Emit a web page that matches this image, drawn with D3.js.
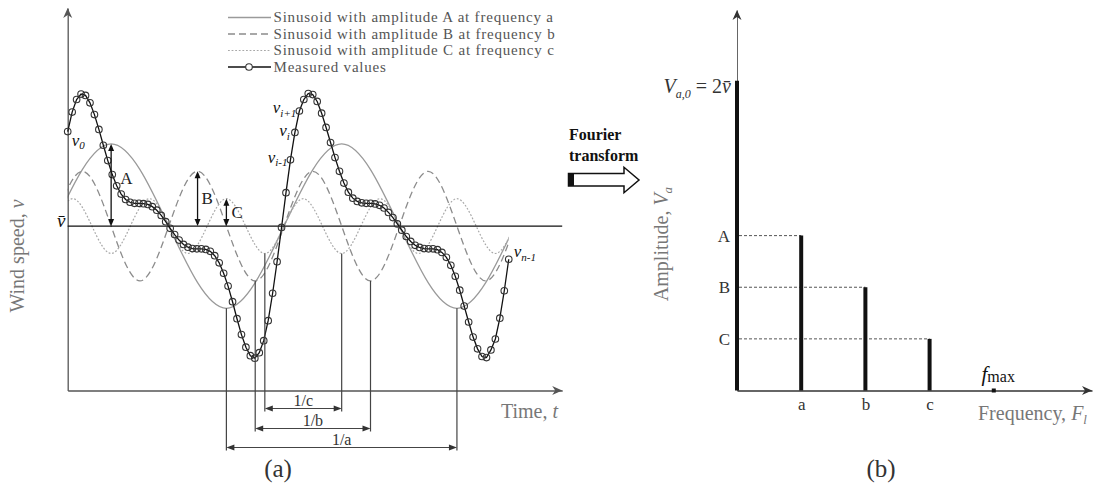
<!DOCTYPE html>
<html><head><meta charset="utf-8">
<script src="https://cdn.jsdelivr.net/npm/d3@7"></script>
<style>
html,body{margin:0;padding:0;background:#fff;}
svg{display:block;}
text{font-family:"Liberation Serif","Times New Roman",serif;}
</style></head><body>
<svg id="chart" width="1098" height="495"></svg>
<script>
// ---------- data ----------
const meanSpeed = 3;
const componentNames = ["A", "B", "C"];
const componentAmplitudes = [3, 2, 1];
const freqLabels = ["a", "b", "c"];
const componentFrequencies = [1, 2, 3];   // in multiples of a
const maxFrequency = 4;
const dcAmplitude = 2 * meanSpeed;       // V_a,0 = 2·v̄

// extrema and mean crossings of each sinusoid (time in sampling steps)
const sinATimes = [-3.19, 9.75, 22.69, 35.62, 48.56, 61.5, 74.44, 87.37, 100.31];
const sinAValues = [3, 6, 3, 0, 3, 6, 3, 0, 3];
const sinBTimes = [-3.19, 3.28, 9.75, 16.22, 22.69, 29.15, 35.62, 42.09, 48.56, 55.03, 61.5, 67.97, 74.44, 80.9, 87.37, 93.84, 100.31];
const sinBValues = [3, 5, 3, 1, 3, 5, 3, 1, 3, 5, 3, 1, 3, 5, 3, 1, 3];
const sinCTimes = [-3.19, 1.12, 5.44, 9.75, 14.06, 18.37, 22.69, 27.0, 31.31, 35.62, 39.94, 44.25, 48.56, 52.87, 57.19, 61.5, 65.81, 70.12, 74.44, 78.75, 83.06, 87.37, 91.69, 96.0, 100.31];
const sinCValues = [3, 4, 3, 2, 3, 4, 3, 2, 3, 4, 3, 2, 3, 4, 3, 2, 3, 4, 3, 2, 3, 4, 3, 2, 3];

// measured wind speed samples v_0 … v_{n-1}
const measured = [
  6.45, 7.16, 7.62, 7.82, 7.77, 7.50, 7.07, 6.53, 5.95, 5.39,
  4.88, 4.47, 4.17, 3.97, 3.87, 3.83, 3.83, 3.82, 3.79, 3.71,
  3.58, 3.39, 3.16, 2.92, 2.69, 2.49, 2.33, 2.23, 2.18, 2.17,
  2.17, 2.15, 2.08, 1.92, 1.66, 1.28, 0.81, 0.24, -0.38, -0.96,
  -1.42, -1.73, -1.82, -1.62, -1.18, -0.45, 0.55, 1.70, 2.95, 4.22,
  5.42, 6.42, 7.20, 7.62, 7.84, 7.80, 7.55, 7.12, 6.60, 6.05,
  5.50, 5.00, 4.57, 4.24, 4.02, 3.90, 3.85, 3.83, 3.83, 3.81,
  3.76, 3.66, 3.50, 3.31, 3.08, 2.85, 2.62, 2.44, 2.30, 2.22,
  2.18, 2.17, 2.17, 2.14, 2.04, 1.86, 1.57, 1.17, 0.66, 0.08,
  -0.50, -1.05, -1.48, -1.76, -1.80, -1.52, -1.12, -0.36, 0.64, 1.79
];
const labelledSamples = [0, 50, 51, 52, 99];
const sampleLabelSubs = ["0", "i-1", "i", "i+1", "n-1"];

const ampArrowTimes = [9.75, 29.15, 35.62];
const periodLabels = ["1/a", "1/b", "1/c"];
const periodStarts = [35.62, 42.09, 44.25];
const periodEnds = [87.37, 67.97, 61.5];

const legendLabels = [
  "Sinusoid with amplitude A at frequency a",
  "Sinusoid with amplitude B at frequency b",
  "Sinusoid with amplitude C at frequency c",
  "Measured values"
];

// ---------- layout ----------
const svg = d3.select("#chart");
const xA = d3.scaleLinear().domain([0, 111]).range([67.7, 562.2]);
const yA = d3.scaleLinear().domain([-3, 10.96]).range([390.5, 8]);
const xB = d3.scaleLinear().domain([0, 5.53]).range([737, 1092]);
const yB = d3.scaleLinear().domain([0, 7.37]).range([390.5, 10]);

const ink = "#111", axisGrey = "#555", labelGrey = "#777";

function head(g, x, y, dir, len = 8, half = 3.5, color = ink) {
  g.append("path").attr("d", `M0,0L${-len},${-half}L${-len},${half}Z`)
    .attr("transform", `translate(${x},${y}) rotate(${dir})`).attr("fill", color);
}
function axisHead(g, x, y, dir, color) {
  g.append("path").attr("d", "M0,0L-10,-4.5L-7,0L-10,4.5Z")
    .attr("transform", `translate(${x},${y}) rotate(${dir})`).attr("fill", color);
}

// ===== panel (a) =====
const ga = svg.append("g");
svg.append("defs").append("clipPath").attr("id", "sampleClip").append("rect")
  .attr("x", xA(0)).attr("y", 0).attr("width", xA(measured.length - 1) - xA(0)).attr("height", 495);

const compStyles = [
  { stroke: "#9a9a9a", width: 1.3, dash: null },
  { stroke: "#8c8c8c", width: 1.3, dash: "7,4" },
  { stroke: "#a8a8a8", width: 1.2, dash: "1.8,1.8" }
];
const compData = [
  sinATimes.map((t, i) => [t, sinAValues[i]]),
  sinBTimes.map((t, i) => [t, sinBValues[i]]),
  sinCTimes.map((t, i) => [t, sinCValues[i]])
];
const compLine = d3.line().x(d => xA(d[0])).y(d => yA(d[1])).curve(d3.curveNatural);
const comp = ga.append("g").attr("clip-path", "url(#sampleClip)").attr("fill", "none");
compData.forEach((d, i) => {
  comp.append("path").attr("d", compLine(d)).attr("stroke", compStyles[i].stroke)
    .attr("stroke-width", compStyles[i].width).attr("stroke-dasharray", compStyles[i].dash);
});

// axes
const axA = ga.append("g");
axA.append("g").attr("transform", `translate(0,${yA(-3)})`)
  .call(d3.axisBottom(xA).tickValues([]).tickSizeOuter(0));
axA.append("g").attr("transform", `translate(${xA(0)},0)`)
  .call(d3.axisLeft(yA).tickValues([]).tickSizeOuter(0));
axA.selectAll(".domain").attr("stroke", axisGrey).attr("stroke-width", 1.3);
axisHead(ga, xA(111), yA(-3), 0, axisGrey);
axisHead(ga, xA(0), yA(10.96), -90, axisGrey);

// mean line
ga.append("line").attr("x1", xA(0)).attr("x2", xA(111)).attr("y1", yA(meanSpeed)).attr("y2", yA(meanSpeed))
  .attr("stroke", ink).attr("stroke-width", 1.3);
ga.append("text").attr("x", 65.5).attr("y", yA(meanSpeed) + 1).attr("text-anchor", "end")
  .attr("font-size", 19).attr("font-style", "italic").attr("fill", ink).text("v\u0304");

// measured values
const mline = d3.line().x((d, i) => xA(i)).y(d => yA(d));
ga.append("path").attr("d", mline(measured)).attr("fill", "none").attr("stroke", ink).attr("stroke-width", 1.3);
ga.selectAll("circle.m").data(measured).join("circle").attr("class", "m")
  .attr("cx", (d, i) => xA(i)).attr("cy", d => yA(d)).attr("r", 3.3)
  .attr("fill", "none").attr("stroke", "#333").attr("stroke-width", 1.1);

// sample labels
const sampleLabelOffsets = [[4, 14, "start"], [-3, 3, "end"], [-5, 4, "end"], [-3, 2, "end"], [5, -2, "start"]];
labelledSamples.forEach((s, k) => {
  const [dx, dy, anchor] = sampleLabelOffsets[k];
  const t = ga.append("text").attr("x", xA(s) + dx).attr("y", yA(measured[s]) + dy)
    .attr("text-anchor", anchor).attr("fill", ink).attr("font-style", "italic");
  t.append("tspan").attr("font-size", 17).text("v");
  t.append("tspan").attr("font-size", 11).attr("dy", 3.5).text(sampleLabelSubs[k]);
});

// amplitude arrows
const labOff = [[9, -7], [4, -1], [5, 0]];
componentAmplitudes.forEach((a, i) => {
  const x = xA(ampArrowTimes[i]);
  const y1 = yA(meanSpeed + a), y2 = yA(meanSpeed);
  ga.append("line").attr("x1", x).attr("x2", x).attr("y1", y1 + 2).attr("y2", y2 - 2).attr("stroke", ink).attr("stroke-width", 1.3);
  head(ga, x, y1, -90, 7, 3);
  head(ga, x, y2, 90, 7, 3);
  ga.append("text").attr("x", x + labOff[i][0]).attr("y", (y1 + y2) / 2 + labOff[i][1]).attr("dy", "0.35em")
    .attr("font-size", 17).attr("fill", "#222").text(componentNames[i]);
});

// period dimension lines
const levels = [447.5, 428.5, 408.5];
const troughs = componentAmplitudes.map(a => meanSpeed - a);
periodLabels.forEach((lab, i) => {
  const xs = xA(periodStarts[i]), xe = xA(periodEnds[i]), ly = levels[i];
  [xs, xe].forEach(x => ga.append("line").attr("x1", x).attr("x2", x).attr("y1", yA(troughs[i])).attr("y2", ly + 3)
    .attr("stroke", "#444").attr("stroke-width", 1.2));
  ga.append("line").attr("x1", xs + 2).attr("x2", xe - 2).attr("y1", ly).attr("y2", ly).attr("stroke", "#444").attr("stroke-width", 1.2);
  head(ga, xs, ly, 180, 8, 3, "#333");
  head(ga, xe, ly, 0, 8, 3, "#333");
  ga.append("text").attr("x", (xs + xe) / 2).attr("y", ly - 3).attr("text-anchor", "middle")
    .attr("font-size", 16).attr("fill", "#333").text(lab);
});

// axis titles
const wt = ga.append("text").attr("transform", "translate(24,256) rotate(-90)").attr("text-anchor", "middle")
  .attr("font-size", 20).attr("fill", labelGrey);
wt.append("tspan").text("Wind speed, ");
wt.append("tspan").attr("font-style", "italic").text("v");
const tt = ga.append("text").attr("x", 558).attr("y", 418).attr("text-anchor", "end")
  .attr("font-size", 20).attr("fill", labelGrey);
tt.append("tspan").text("Time, ");
tt.append("tspan").attr("font-style", "italic").text("t");
ga.append("text").attr("x", 278).attr("y", 477).attr("text-anchor", "middle").attr("font-size", 25).attr("fill", "#333").text("(a)");

// legend
const legY = [17.5, 34, 50.5, 67];
const leg = ga.append("g");
legendLabels.forEach((lab, i) => {
  const y = legY[i];
  const st = i < 3 ? compStyles[i] : { stroke: ink, width: 1.3, dash: null };
  leg.append("line").attr("x1", 228).attr("x2", 271).attr("y1", y).attr("y2", y)
    .attr("stroke", st.stroke).attr("stroke-width", st.width).attr("stroke-dasharray", st.dash);
  if (i === 3) leg.append("circle").attr("cx", 249).attr("cy", y).attr("r", 3.3).attr("fill", "#fff").attr("stroke", "#333").attr("stroke-width", 1.1);
  leg.append("text").attr("x", 273.5).attr("y", y).attr("dy", "0.33em").attr("font-size", 15)
    .attr("letter-spacing", 0.8).attr("fill", "#555").text(lab);
});

// ===== Fourier transform arrow =====
const gm = svg.append("g");
gm.append("text").attr("x", 569).attr("y", 139.5).attr("font-size", 16).attr("font-weight", "bold").attr("fill", ink).text("Fourier");
gm.append("text").attr("x", 569).attr("y", 161).attr("font-size", 16).attr("font-weight", "bold").attr("fill", ink).text("transform");
gm.append("path").attr("d", "M568.5,173.5H624V167.3L639,180L624,192.7V186H568.5Z")
  .attr("fill", "#fff").attr("stroke", ink).attr("stroke-width", 1.5).attr("stroke-linejoin", "miter");
gm.append("rect").attr("x", 568.5).attr("y", 173.5).attr("width", 5.5).attr("height", 12.5).attr("fill", ink);

// ===== panel (b) =====
const gb = svg.append("g");
const axX = gb.append("g").attr("transform", `translate(0,${yB(0)})`)
  .call(d3.axisBottom(xB).tickValues(componentFrequencies).tickFormat((d, i) => freqLabels[i]).tickSize(0).tickPadding(7).tickSizeOuter(0));
axX.select(".domain").attr("stroke", "#333").attr("stroke-width", 1.3);
axX.selectAll(".tick text").attr("font-family", "Liberation Serif").attr("font-size", 17).attr("fill", "#333");
axisHead(gb, xB(5.53), yB(0), 0, "#333");

const axY = gb.append("g").attr("transform", `translate(${xB(0)},0)`)
  .call(d3.axisLeft(yB).tickValues(componentAmplitudes).tickFormat((d, i) => componentNames[i]).tickSize(0).tickPadding(7).tickSizeOuter(0));
axY.select(".domain").attr("stroke", "#666").attr("stroke-width", 1);
axY.selectAll(".tick text").attr("font-family", "Liberation Serif").attr("font-size", 17).attr("fill", "#333");
axisHead(gb, xB(0), yB(7.37), -90, "#333");

// guides from the axis to each spectral line
componentAmplitudes.forEach((a, i) => {
  gb.append("line").attr("x1", xB(0) + 2).attr("x2", xB(componentFrequencies[i])).attr("y1", yB(a)).attr("y2", yB(a))
    .attr("stroke", "#555").attr("stroke-width", 1).attr("stroke-dasharray", "3,2");
});
// spectral lines
const spec = [[0, dcAmplitude]].concat(componentFrequencies.map((f, i) => [f, componentAmplitudes[i]]));
gb.selectAll("line.bar").data(spec).join("line").attr("class", "bar")
  .attr("x1", d => xB(d[0])).attr("x2", d => xB(d[0])).attr("y1", yB(0)).attr("y2", d => yB(d[1]))
  .attr("stroke", ink).attr("stroke-width", 4);
gb.append("rect").attr("x", xB(maxFrequency) - 2).attr("y", yB(0) - 2).attr("width", 4).attr("height", 4).attr("fill", ink);

// labels
const v0 = gb.append("text").attr("x", 731).attr("y", 93).attr("text-anchor", "end").attr("font-size", 20).attr("fill", "#333");
v0.append("tspan").attr("font-style", "italic").text("V");
v0.append("tspan").attr("font-size", 12).attr("dy", 5).attr("font-style", "italic").text("a,0");
v0.append("tspan").attr("dy", -5).text(" = 2");
v0.append("tspan").attr("font-style", "italic").text("v\u0304");

const fm = gb.append("text").attr("x", 981.5).attr("y", 381).attr("fill", ink);
fm.append("tspan").attr("font-size", 21).attr("font-style", "italic").text("f");
fm.append("tspan").attr("font-size", 16).attr("dy", 1).text("max");

const at = gb.append("text").attr("transform", "translate(668,244) rotate(-90)").attr("text-anchor", "middle")
  .attr("font-size", 20).attr("fill", labelGrey);
at.append("tspan").text("Amplitude, ");
at.append("tspan").attr("font-style", "italic").text("V");
at.append("tspan").attr("font-style", "italic").attr("font-size", 13).attr("dy", 4).text("a");

const ft = gb.append("text").attr("x", 978).attr("y", 420).attr("font-size", 20).attr("fill", labelGrey);
ft.append("tspan").text("Frequency, ");
ft.append("tspan").attr("font-style", "italic").text("F");
ft.append("tspan").attr("font-style", "italic").attr("font-size", 13).attr("dy", 4).text("l");

gb.append("text").attr("x", 881).attr("y", 477).attr("text-anchor", "middle").attr("font-size", 25).attr("fill", "#333").text("(b)");
</script>
</body></html>
